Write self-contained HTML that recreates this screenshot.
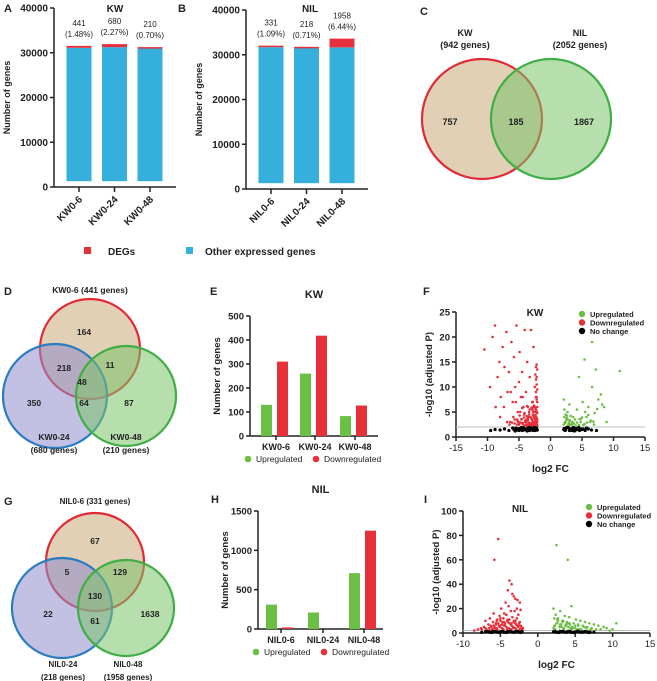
<!DOCTYPE html>
<html><head><meta charset="utf-8"><style>
body{margin:0;background:#fff}
svg{display:block;font-family:"Liberation Sans",Arial,sans-serif}
</style></head><body>
<svg id="fig" width="657" height="681" viewBox="0 0 657 681"></svg>
<script>
// ---------- DATA ----------
const kwCats=["KW0-6","KW0-24","KW0-48"];
const kwDeg=[441,680,210];
const kwOther=[31100,31250,31050];
const kwLabels=["441","680","210"];
const kwPct=["(1.48%)","(2.27%)","(0.70%)"];
const nilCats=["NIL0-6","NIL0-24","NIL0-48"];
const nilDeg=[331,218,1958];
const nilOther=[31700,31550,31650];
const nilLabels=["331","218","1958"];
const nilPct=["(1.09%)","(0.71%)","(6.44%)"];
const stackTicks=[0,10000,20000,30000,40000];
const kwUp=[130,260,83];
const kwDown=[310,418,127];
const eTicks=[0,100,200,300,400,500];
const nilUp=[310,210,710];
const nilDown=[20,0,1250];
const hTicks=[0,500,1000,1500];
// volcano KW: fold changes and -log10 p
const fRedX=[-10.5,-9.6,-9.2,-8.8,-8.7,-8.4,-8.1,-7.9,-7.6,-7.3,-7.0,-6.8,-6.6,-6.4,-6.2,-6.0,-5.8,-5.6,-5.4,-5.2,-5.0,-4.9,-4.7,-4.5,-4.3,-4.1,-3.9,-3.7,-3.5,-3.3,-3.1,-2.9,-2.7,-2.5,-2.3,-2.1,-8.0,-7.4,-6.9,-6.3,-5.9,-5.5,-5.1,-4.8,-4.4,-4.0,-3.6,-3.2,-2.8,-2.4,-2.2,-6.5,-5.7,-5.3,-4.6,-4.2,-3.8,-3.4,-3.0,-2.6,-2.2,-5.0,-4.5,-3.9,-3.3,-2.8,-2.3,-4.2,-3.6,-3.1,-2.6,-2.1,-3.0,-2.5,-2.2,-3.8,-2.4,-3.4,-2.7,-2.3,
 -2.1,-2.2,-2.3,-2.4,-2.5,-2.6,-2.7,-2.8,-2.9,-3.0,-2.1,-2.2,-2.3,-2.4,-2.5,-2.6,-2.7,-2.8,-2.9,-3.0,-2.1,-2.2,-2.3,-2.4,-2.5,-2.6,-2.7,-2.8,-2.9,-3.0,-3.2,-3.4,-3.6,-3.8,-4.0,-4.2,-4.4,-3.2,-3.4,-3.6,-3.8,-4.0,-4.2,-4.4,-4.6,-4.8,-5.0,-5.2,-3.3,-3.7,-4.1,-4.5,-4.9,-5.3,-5.7,-6.1,-2.1,-2.2,-2.3,-2.1,-2.2,-2.3,-2.4,-2.1,-2.2];
const fRedY=[17.5,10,20,22.3,6,12,15,8,18,14,21,9,13,3,19,7,16,10,22.3,5,11,17,8,13,6,21.4,9,15,4,12,21.4,7,18,10,14,6,4,6,3,9,4,7,3,5,8,3,6,4,7,5,12,2.5,3.5,2.5,3.5,4.5,3,5,3.5,4,8,2.5,2.8,2.3,2.6,3,3.2,2.2,2.4,2.6,2.4,3,2.2,2.5,5,3.5,2.8,2.5,6,9,
 2.3,2.6,2.9,3.2,2.4,2.7,3.0,2.2,2.5,2.8,3.5,3.8,4.1,4.4,3.6,3.9,4.2,4.5,3.4,3.7,4.8,5.1,5.4,5.7,6.0,6.3,5.0,5.3,5.6,5.9,2.4,2.9,3.4,2.6,3.1,2.3,2.8,4.0,4.5,3.7,4.2,3.3,3.9,2.6,3.6,2.9,2.5,3.2,5.5,6.2,4.8,5.8,4.3,3.5,2.7,2.9,7,7.5,8,9.5,10.5,11.5,12.5,13.5,14.5];
const fGreenX=[2.1,2.4,2.7,3.0,3.3,3.6,3.9,4.2,4.5,4.8,5.1,5.4,5.7,6.0,6.3,6.6,6.9,7.2,7.6,8.0,8.5,8.9,11.0,6.6,5.5,4.5,2.3,2.6,3.1,3.5,4.0,4.6,5.2,5.8,6.4,7.0,2.2,2.9,3.7,5.0,2.1,2.3,2.5,2.7,2.9,3.1,3.3,3.5,2.2,2.4,2.6,2.8,3.0,3.2,3.4,4.2,4.8,5.4,6.0,6.8,7.4,8.2];
const fGreenY=[7.5,3,5,6.5,2.5,4,3.5,5.5,12,3,7,15.5,4,6,3,10,2.5,13.5,7.5,8.5,6,3,13.2,19,5,2.4,2.8,4.3,3.2,2.6,2.3,3.6,2.4,2.9,3.3,4.8,5.5,2.2,2.7,3.9,2.5,3.0,3.5,2.3,2.8,3.3,2.5,3.0,4.0,4.5,3.8,3.4,2.4,4.2,2.7,2.9,3.6,2.6,4.4,3.1,5.6,6.5];
const fBlackX=[-9.5,-8.8,-8,-7.3,-6.6,-6,-5.4,-4.8,-4.2,-3.6,-3,-2.5,-2.1,-5.6,-4.4,-3.3,-2.7,2.1,2.5,3,3.5,4,4.5,5,5.5,6,6.5,7.3,2.8,3.8,4.8,
 -5.8,-5.5,-5.2,-5.0,-4.7,-4.5,-4.3,-4.0,-3.8,-3.5,-3.2,-3.0,-2.8,-2.6,-2.3,-2.2,-5.0,-4.6,-4.1,-3.7,-3.4,-2.9,-2.4,2.2,2.4,2.6,3.2,3.4,3.7,4.2,4.4,4.7,5.2,5.7,2.3,3.1,3.6,4.1,4.6];
const fBlackY=[1.3,1.5,1.4,1.6,1.3,1.8,1.5,1.7,1.4,1.8,1.6,1.9,1.4,1.2,1.6,1.3,1.7,1.5,1.8,1.3,1.7,1.4,1.9,1.5,1.3,1.6,1.4,1.3,1.9,1.2,1.6,
 1.5,1.8,1.4,1.7,1.5,1.3,1.8,1.6,1.4,1.7,1.5,1.8,1.3,1.6,1.5,1.8,1.3,1.9,1.5,1.2,1.9,1.5,1.3,1.7,1.4,1.9,1.6,1.3,1.8,1.5,1.7,1.4,1.6,1.8,1.3,1.5,1.9,1.7,1.3];
// volcano NIL
const iRedX=[-8.5,-8,-7.6,-7.2,-6.9,-6.6,-6.3,-6.0,-5.8,-5.6,-5.4,-5.2,-5.0,-4.8,-4.6,-4.4,-4.2,-4.0,-3.8,-3.6,-3.4,-3.2,-3.0,-2.8,-2.6,-2.4,-2.2,-2.0,-5.8,-5.3,-3.8,-3.5,-3.2,-3.0,-2.7,-2.4,-4.9,-4.3,-3.9,-3.1,-2.3,-6.8,-6.1,-5.5,-4.7,-4.1,-3.7,-3.3,-2.9,-2.5,-2.1,-7.0,-6.4,-5.1,-4.5,-3.6,-2.6,-4.0,-3.4,-5.9,-2.8,-4.6,
 -6.5,-6.2,-5.9,-5.6,-5.3,-5.0,-4.7,-4.4,-4.1,-3.8,-3.5,-3.2,-2.9,-2.6,-2.3,-6.4,-6.0,-5.7,-5.4,-5.1,-4.8,-4.5,-4.2,-3.9,-3.6,-3.3,-3.0,-2.7,-2.4,-2.1,-5.5,-5.0,-4.5,-4.0,-3.5,-3.0,-2.5,-7.5,-7.0];
const iRedY=[2,3,4,5,3,7,6,9,5,8,11,6,10,7,12,8,15,9,11,7,13,10,8,12,6,9,5,4,60,77,43,40,30,28,27,25,20,25,22,18,19,2,3,4,2,3,2,4,3,2,3,10,12,14,16,18,15,35,32,16,20,3,
 4,5,6,7,8,6,9,7,10,8,6,9,7,5,6,2,3,4,3,5,4,6,5,4,3,5,4,6,3,4,10,12,9,11,8,10,8,3,4];
const iGreenX=[2.1,2.4,2.7,3.0,3.3,3.6,3.9,4.2,4.5,4.8,5.1,5.4,5.7,6.0,6.3,6.6,6.9,7.2,7.5,7.8,8.1,8.4,8.8,9.2,9.6,10.0,10.5,2.2,2.6,3.2,3.8,4.4,5.0,5.6,6.2,6.8,2.3,2.9,3.5,4.1,4.7,5.3,5.9,6.5,7.1,2.5,4.0,
 2.1,2.3,2.5,2.7,2.9,3.1,3.3,3.5,3.7,3.9,4.1,4.3,4.5,2.2,2.6,3.0,3.4,3.8,4.2,4.6,5.0,5.4,5.8];
const iGreenY=[20,15,12,18,10,14,9,13,22,8,11,7,10,6,9,5,8,4,7,3,6,3,5,4,2,3,8,6,8,5,7,4,6,3,5,2,3,2,3,2,4,3,2,4,3,72,60,
 4,6,8,10,5,7,9,4,6,8,5,7,3,12,11,7,10,6,8,5,4,6,3];
const iBlackX=[-7.5,-7,-6.5,-6,-5.5,-5,-4.5,-4,-3.5,-3,-2.5,-2.1,2.1,2.5,3,3.5,4,4.5,5,5.5,6,6.5,7,7.5,-6.7,-6.2,-5.7,-5.2,-4.7,-4.2,-3.7,-3.2,-2.7,-2.3,2.3,2.8,3.3,3.8,4.3,4.8,5.3,5.8,6.3,6.8];
const iBlackY=[0.5,1,0.7,1.2,0.8,1.1,0.6,1.3,0.9,1,0.7,1.2,1,0.6,1.2,0.8,1.1,0.5,0.9,1.2,0.7,1,0.6,0.8,1.4,0.4,1.5,0.5,1.4,0.4,1.5,0.5,1.4,0.4,1.4,0.4,1.5,0.5,1.4,0.4,1.5,0.5,1.3,0.4];

// ---------- HELPERS ----------
const NS="http://www.w3.org/2000/svg";
const svg=document.getElementById('fig');
function mk(tag,attrs,parent){const e=document.createElementNS(NS,tag);for(const k in attrs)e.setAttribute(k,attrs[k]);(parent||svg).appendChild(e);return e;}
function txt(x,y,s,size,weight,anchor,parent,fill){const t=mk('text',{x:x,y:y,'font-size':size,'font-weight':weight||'normal','text-anchor':anchor||'middle',fill:fill||'#222'},parent);t.textContent=s;return t;}
const BLUE="#35afdc",RED="#e8303a",GREEN="#6cbf45";

// ---------- PANEL LETTERS ----------
[["A",4,12],["B",178,12],["C",420,15],["D",4,295],["E",210,295],["F",423,295],["G",4,505],["H",211,503],["I",424,503]].forEach(l=>{
 const t=txt(l[1],l[2],l[0],11,'bold','start');
 
 
});

// ---------- STACKED BARS ----------
function stacked(id,ax,y0,y40,cats,deg,other,labels,pct,title,titleX){
 const g=mk('g',{});
 
 
 const ys=v=>y0-(v/40000)*(y0-y40);
 const xs=i=>ax+25+i*35.5;
 mk('line',{x1:ax,y1:y40,x2:ax,y2:y0,stroke:'#222','stroke-width':1.5},g);
 mk('line',{x1:ax,y1:y0,x2:ax+122,y2:y0,stroke:'#222','stroke-width':1.5},g);
 stackTicks.forEach(v=>{
  mk('line',{x1:ax-4,y1:ys(v),x2:ax,y2:ys(v),stroke:'#222','stroke-width':1.5},g);
  const t=txt(ax-6,ys(v)+3.5,String(v),10,'bold','end',g);
  
  
 });
 cats.forEach((c,i)=>{
  const x=xs(i);
  const b=mk('rect',{x:x-12.5,y:ys(other[i]),width:25,height:ys(1300)-ys(other[i]),fill:BLUE},g);
  
  
  const r=mk('rect',{x:x-12.5,y:ys(other[i]+deg[i]),width:25,height:Math.max(1.5,ys(other[i])-ys(other[i]+deg[i])),fill:RED},g);
  
  
  const a=txt(x,ys(other[i]+deg[i])-20,labels[i],8,'normal','middle',g);
  
  
  const p=txt(x,ys(other[i]+deg[i])-9,pct[i],8,'normal','middle',g);
  
  
  mk('line',{x1:x,y1:y0,x2:x,y2:y0+5,stroke:'#222','stroke-width':1.5},g);
  const cl=txt(0,0,c,10,'bold','end',g);
  cl.setAttribute('transform','translate('+(x+4)+','+(y0+13)+') rotate(-45)');
  
  
 });
 const yt=txt(0,0,'Number of genes',9,'bold','middle',g);
 yt.setAttribute('transform','translate('+(ax-44)+','+((y0+y40)/2)+') rotate(-90)');
 
 
 const tt=txt(titleX,12,title,10,'bold','middle',g);
 
 
}
stacked('kw-stacked',54,187,8,kwCats,kwDeg,kwOther,kwLabels,kwPct,'KW',115);
stacked('nil-stacked',246,189,10,nilCats,nilDeg,nilOther,nilLabels,nilPct,'NIL',310);
// legend A/B
(function(){
 const r=mk('rect',{x:84,y:247,width:7,height:7,fill:RED});
 
 
 const t=txt(108,255,'DEGs',10,'bold','start');
 
 
 const r2=mk('rect',{x:186,y:247,width:7,height:7,fill:BLUE});
 
 
 const t2=txt(205,255,'Other expressed genes',10,'bold','start');
 
 
})();

// ---------- VENN ----------
function circ(cx,cy,r,fill,stroke,name){const c=mk('circle',{cx:cx,cy:cy,r:r,fill:fill,'fill-opacity':0.55,stroke:stroke,'stroke-width':2.2});}
function vt(x,y,s,size,w,name){const t=txt(x,y,s,size,w);}
circ(482,119,60,'#c9a87a','#e02a35','venn-c-kw-circle');
circ(551,119,60,'#7cc36a','#3fae44','venn-c-nil-circle');
vt(465,36,'KW',9,'bold','venn-c-kw-label');vt(465,48,'(942 genes)',9,'bold','venn-c-kw-count');
vt(580,36,'NIL',9,'bold','venn-c-nil-label');vt(580,48,'(2052 genes)',9,'bold','venn-c-nil-count');
vt(450,125,'757',9,'bold','venn-c-kw-only');vt(516,125,'185',9,'bold','venn-c-shared');vt(584,125,'1867',9,'bold','venn-c-nil-only');

circ(90,349,50,'#c9a87a','#e02a35','venn-d-kw06-circle');
circ(55,396,52,'#8f8ccc','#2a7cc0','venn-d-kw024-circle');
circ(126,396,50,'#7cc36a','#3fae44','venn-d-kw048-circle');
vt(90,293,'KW0-6 (441 genes)',8.5,'bold','venn-d-kw06-label');
vt(54,440,'KW0-24',8.5,'bold','venn-d-kw024-label');vt(54,453,'(680 genes)',8.5,'bold','venn-d-kw024-count');
vt(126,440,'KW0-48',8.5,'bold','venn-d-kw048-label');vt(126,453,'(210 genes)',8.5,'bold','venn-d-kw048-count');
[[84,335,'164'],[64,371,'218'],[110,368,'11'],[82,385,'48'],[34,406,'350'],[84,406,'64'],[129,406,'87']].forEach(v=>vt(v[0],v[1],v[2],8.5,'bold','venn-d-region-count'));

circ(95,562,49,'#c9a87a','#e02a35','venn-g-nil06-circle');
circ(62,608,50,'#8f8ccc','#2a7cc0','venn-g-nil024-circle');
circ(126,608,48,'#7cc36a','#3fae44','venn-g-nil048-circle');
vt(95,504,'NIL0-6 (331 genes)',8,'bold','venn-g-nil06-label');
vt(63,667,'NIL0-24',8,'bold','venn-g-nil024-label');vt(63,680,'(218 genes)',8,'bold','venn-g-nil024-count');
vt(128,667,'NIL0-48',8,'bold','venn-g-nil048-label');vt(128,680,'(1958 genes)',8,'bold','venn-g-nil048-count');
[[95,544,'67'],[67,575,'5'],[120,575,'129'],[95,599,'130'],[48,617,'22'],[95,624,'61'],[150,617,'1638']].forEach(v=>vt(v[0],v[1],v[2],8.5,'bold','venn-g-region-count'));

// ---------- GROUPED BARS ----------
function grouped(id,ax,y0,ytop,vmax,ticks,cats,up,down,title,titleY,centers,xEnd,legY){
 const g=mk('g',{});
 
 
 const ys=v=>y0-(v/vmax)*(y0-ytop);
 mk('line',{x1:ax,y1:ytop,x2:ax,y2:y0,stroke:'#222','stroke-width':1.5},g);
 mk('line',{x1:ax,y1:y0,x2:xEnd,y2:y0,stroke:'#222','stroke-width':1.5},g);
 ticks.forEach(v=>{
  mk('line',{x1:ax-4,y1:ys(v),x2:ax,y2:ys(v),stroke:'#222','stroke-width':1.5},g);
  const t=txt(ax-6,ys(v)+3.5,String(v),9.5,'bold','end',g);
  
  
 });
 cats.forEach((c,i)=>{
  const cx=centers[i];
  const bu=mk('rect',{x:cx-15,y:ys(up[i]),width:11,height:y0-ys(up[i]),fill:GREEN},g);
  
  
  const bd=mk('rect',{x:cx+1,y:ys(down[i]),width:11,height:y0-ys(down[i]),fill:RED},g);
  
  
  mk('line',{x1:cx,y1:y0,x2:cx,y2:y0+4,stroke:'#222','stroke-width':1.5},g);
  const l=txt(cx,y0+14,c,9,'bold','middle',g);
  
  
 });
 const yt=txt(0,0,'Number of genes',9.5,'bold','middle',g);
 yt.setAttribute('transform','translate('+(ax-30)+','+((y0+ytop)/2)+') rotate(-90)');
 
 
 const tt=txt((ax+xEnd)/2,titleY,title,11,'bold','middle',g);
 
 
 const c1=mk('circle',{cx:ax-2,cy:legY-3,r:3.3,fill:GREEN},g);
 
 
 const t1=txt(ax+6,legY,'Upregulated',8.5,'normal','start',g);
 
 
 const c2=mk('circle',{cx:ax+66,cy:legY-3,r:3.3,fill:RED},g);
 
 
 const t2=txt(ax+74,legY,'Downregulated',8.5,'normal','start',g);
 
 
}
grouped('kw-updown',250,436,316,500,eTicks,kwCats,kwUp,kwDown,'KW',298,[276,315,355],378,462);
grouped('nil-updown',258,629,511,1500,hTicks,nilCats,nilUp,nilDown,'NIL',493,[281,323,364],383,655);

// ---------- VOLCANO ----------
function volcano(id,ax,y0,ytop,ymax,yticks,xmin,xmax,xticks,xEnd,redX,redY,grX,grY,bkX,bkY,title,titleX,titleY,legX,legY,thr){
 const g=mk('g',{});
 
 
 const xs=v=>ax+(v-xmin)/(xmax-xmin)*(xEnd-ax);
 const ys=v=>y0-(v/ymax)*(y0-ytop);
 mk('line',{x1:ax,y1:ytop,x2:ax,y2:y0,stroke:'#222','stroke-width':1.5},g);
 mk('line',{x1:ax,y1:y0,x2:xEnd,y2:y0,stroke:'#222','stroke-width':1.5},g);
 yticks.forEach(v=>{
  mk('line',{x1:ax-4,y1:ys(v),x2:ax,y2:ys(v),stroke:'#222','stroke-width':1.5},g);
  const t=txt(ax-6,ys(v)+3.5,String(v),9.5,'bold','end',g);
  
  
 });
 xticks.forEach(v=>{
  mk('line',{x1:xs(v),y1:y0,x2:xs(v),y2:y0+4,stroke:'#222','stroke-width':1.5},g);
  const t=txt(xs(v),y0+14,String(v),9.5,'normal','middle',g);
  
  
 });
 mk('line',{x1:ax,y1:ys(thr),x2:xEnd,y2:ys(thr),stroke:'#bbb','stroke-width':1},g);
 redX.forEach((x,i)=>{const p=mk('circle',{cx:xs(x),cy:ys(redY[i]),r:1.3,fill:RED},g);});
 grX.forEach((x,i)=>{const p=mk('circle',{cx:xs(x),cy:ys(grY[i]),r:1.3,fill:GREEN},g);});
 bkX.forEach((x,i)=>{const p=mk('circle',{cx:xs(x),cy:ys(bkY[i]),r:1.6,fill:'#000'},g);});
 const xt=txt((ax+xEnd)/2,y0+35,'log2 FC',10,'bold','middle',g);
 
 
 const yt=txt(0,0,'-log10 (adjusted P)',9.5,'bold','middle',g);
 yt.setAttribute('transform','translate('+(ax-24)+','+((y0+ytop)/2)+') rotate(-90)');
 
 
 const tt=txt(titleX,titleY,title,10,'bold','middle',g);
 
 
 [[GREEN,'Upregulated'],[RED,'Downregulated'],['#000','No change']].forEach((l,i)=>{
  const c=mk('circle',{cx:legX,cy:legY+i*8.5-3,r:3.2,fill:l[0]},g);
  
  
  const t=txt(legX+8,legY+i*8.5,l[1],7.5,'bold','start',g);
  
  
 });
}
volcano('kw',456,437,312,25,[0,5,10,15,20,25],-15,15,[-15,-10,-5,0,5,10,15],645,fRedX,fRedY,fGreenX,fGreenY,fBlackX,fBlackY,'KW',535,316,582,317,2);
volcano('nil',463,633,511,100,[0,20,40,60,80,100],-10,15,[-10,-5,0,5,10,15],650,iRedX,iRedY,iGreenX,iGreenY,iBlackX,iBlackY,'NIL',520,512,589,510,2);
</script>
</body></html>
